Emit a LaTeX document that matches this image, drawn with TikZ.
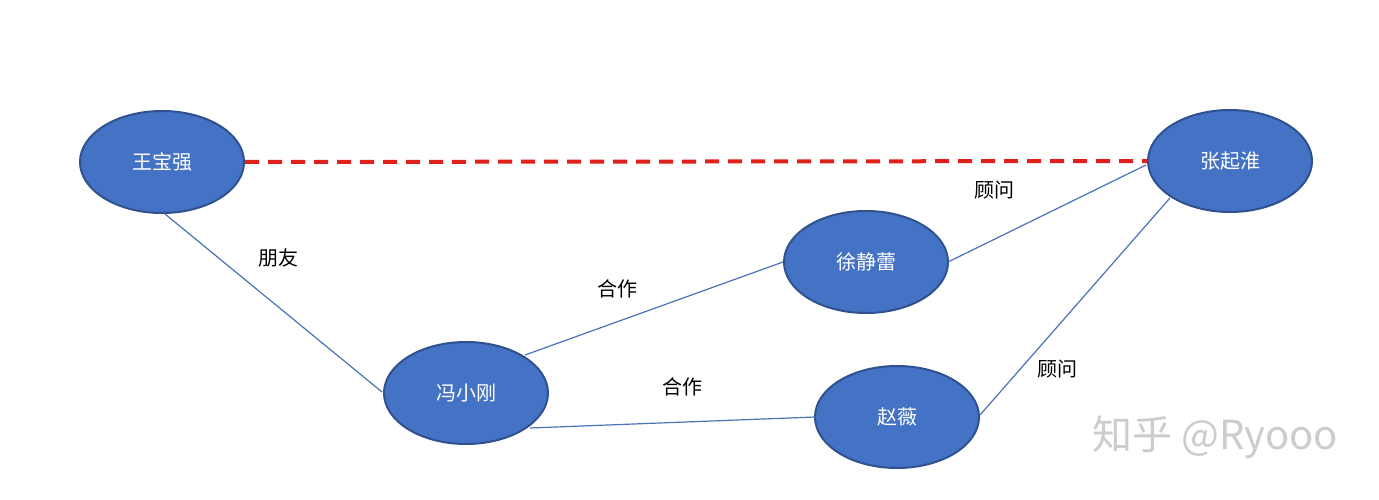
\documentclass[tikz,border=0pt]{standalone}
\usepackage{fontspec}
\setmainfont{Noto Sans CJK SC}
\usetikzlibrary{shapes.geometric}
\definecolor{nodefill}{HTML}{4472C4}
\definecolor{nodeedge}{HTML}{2F528F}
\definecolor{linkcol}{HTML}{4A72B8}
\definecolor{dashred}{HTML}{E0201B}
\tikzset{
  person/.style={ellipse,fill=nodefill,draw=nodeedge,line width=2pt,minimum width=164pt,minimum height=102pt,inner sep=0pt,text=white,font=\fontsize{20}{24}\selectfont},
  link/.style={draw=linkcol,line width=1.2pt},
  lbl/.style={font=\fontsize{20}{24}\selectfont,text=black}
}
\begin{document}
\begin{tikzpicture}[x=1pt,y=-1pt]
\useasboundingbox[fill=white] (0,0) rectangle (1379,500);
\node[person] (w) at (162,162) {王宝强};
\node[person] (z) at (1230,161) {张起淮};
\node[person] (x) at (866,262) {徐静蕾};
\node[person] (f) at (466,393) {冯小刚};
\node[person] (v) at (897,417) {赵薇};
\draw[dashred,line width=4pt,dash pattern=on 14pt off 9pt] (w.east) -- (z.west);
\draw[link] (165,214) -- (382,392);
\draw[link] (525,355) -- (783,262);
\draw[link] (530,428) -- (815,417);
\draw[link] (948,262) -- (1146,165);
\draw[link] (980,415) -- (1170,198);
\node[lbl] (l1) at (278,258) {朋友};
\node[lbl] (l2) at (617,289) {合作};
\node[lbl] (l3) at (682,387) {合作};
\node[lbl] (l4) at (994,190) {顾问};
\node[lbl] (l5) at (1057,369) {顾问};
\node[text=gray!40,font=\fontsize{40}{48}\selectfont] (wm) at (1215,437) {知乎 @Ryooo};
\end{tikzpicture}
\end{document}
